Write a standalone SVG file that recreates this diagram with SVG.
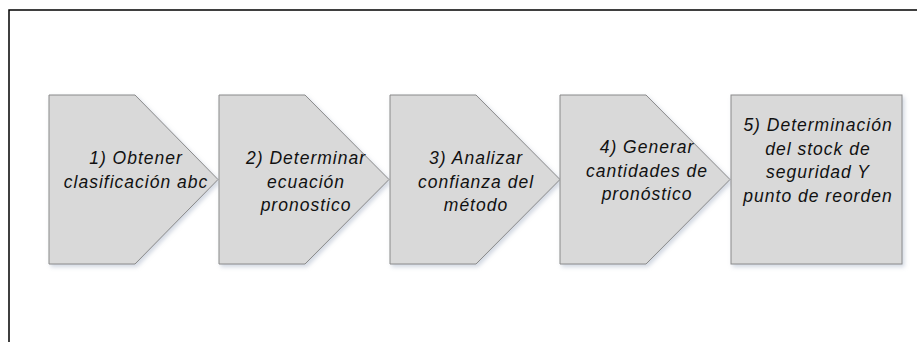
<svg xmlns="http://www.w3.org/2000/svg" width="917" height="342" viewBox="0 0 917 342">
  <defs>
    <filter id="shadow" x="-10%" y="-10%" width="130%" height="130%">
      <feDropShadow dx="2" dy="2.5" stdDeviation="2" flood-color="#9aa6bc" flood-opacity="0.45"/>
    </filter>
  </defs>
  <style>
    .shape { fill: #d9d9d9; stroke: #8a8a8a; stroke-width: 1; filter: url(#shadow); }
    .label { font-family: "Liberation Sans", Arial, sans-serif; font-style: italic; font-size: 17.5px; letter-spacing: 1px; fill: #111; text-anchor: middle; }
    .frame { fill: none; stroke: #000; stroke-width: 1.5; }
  </style>
  <rect width="917" height="342" fill="#fff"/>
  <path class="frame" d="M9,342 V10 H917"/>
  <g id="connectors"/>
  <g id="step1">
    <polygon class="shape" points="49,95 135,95 218,179.5 135,264 49,264"/>
    <text class="label" x="136" y="164.3">1) Obtener</text>
    <text class="label" x="136" y="187.7">clasificación abc</text>
  </g>
  <g id="step2">
    <polygon class="shape" points="219,95 305,95 389,179.5 305,264 219,264"/>
    <text class="label" x="306" y="164.3">2) Determinar</text>
    <text class="label" x="306" y="187.7">ecuación</text>
    <text class="label" x="306" y="211">pronostico</text>
  </g>
  <g id="step3">
    <polygon class="shape" points="390,95 476,95 560,179.5 476,264 390,264"/>
    <text class="label" x="476" y="164.3">3) Analizar</text>
    <text class="label" x="476" y="187.7">confianza del</text>
    <text class="label" x="476" y="211">método</text>
  </g>
  <g id="step4">
    <polygon class="shape" points="560,95 646,95 730,179.5 646,264 560,264"/>
    <text class="label" x="647" y="153.3">4) Generar</text>
    <text class="label" x="647" y="176.7">cantidades de</text>
    <text class="label" x="647" y="199.7">pronóstico</text>
  </g>
  <g id="step5">
    <rect class="shape" x="731" y="95" width="171" height="169"/>
    <text class="label" x="818" y="131">5) Determinación</text>
    <text class="label" x="818" y="154.7">del stock de</text>
    <text class="label" x="818" y="178.3">seguridad Y</text>
    <text class="label" x="818" y="202">punto de reorden</text>
  </g>
</svg>
